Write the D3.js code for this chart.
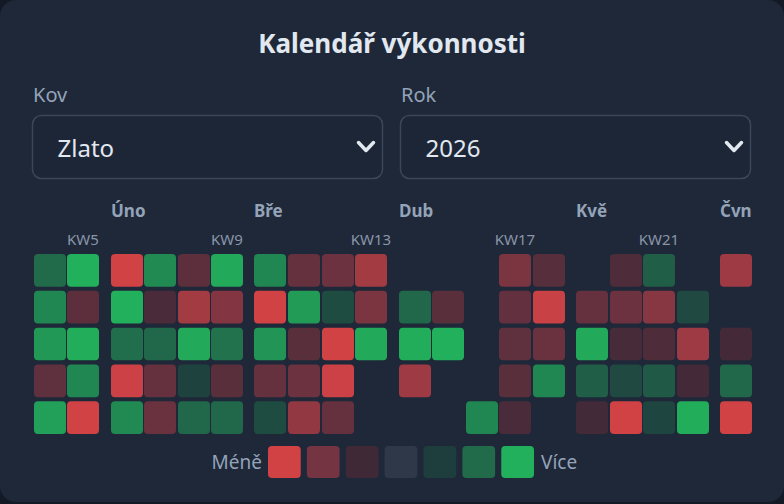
<!DOCTYPE html>
<html lang="cs">
<head>
<meta charset="utf-8">
<script src="https://cdn.jsdelivr.net/npm/d3@7/dist/d3.min.js"></script>
<style>
  html, body { margin: 0; padding: 0; background: #131a26; }
  svg { display: block; font-family: "Noto Sans", "Open Sans", sans-serif; }
</style>
</head>
<body>
<div id="kalendar"></div>
<script>
// ISO tydny roku 2026, ktere jsou videt (KW3 je uriznuty vlevo)
const rok = 2026;
const tydny = [3, 4, 5, 6, 7, 8, 9, 10, 11, 12, 13, 14, 15, 16, 17, 18, 19, 20, 21, 22, 23];
const dny = ["Po", "Út", "St", "Čt", "Pá"];

// denni zmena v % (Po..Pa), null = bez obchodu
const zmeny = [
  [2.9, 1.8, -1.8, 1.3, 1.8],        // KW3
  [2.0, 2.4, 2.65, -1.6, 2.75],      // KW4
  [3.0, -1.55, 2.95, 2.4, -3.0],     // KW5
  [-3.0, 3.0, 2.05, -2.95, 2.45],    // KW6
  [2.45, -1.2, 1.9, -1.7, -1.8],     // KW7
  [-1.55, -2.5, 2.9, 1.1, 1.9],      // KW8
  [2.9, -2.15, 2.1, -1.5, 1.9],      // KW9
  [2.4, -3.0, 2.6, -1.7, 1.3],       // KW10
  [-1.7, 2.7, -1.5, -1.85, -2.3],    // KW11
  [-1.85, 1.3, -3.0, -2.95, -1.7],   // KW12
  [-2.5, -2.05, 2.9, null, null],    // KW13
  [null, 1.9, 2.95, -2.45, null],    // KW14
  [null, -1.5, 3.0, null, null],     // KW15
  [null, null, null, null, 2.4],     // KW16
  [-2.05, -1.65, -1.6, -1.5, -1.2],  // KW17
  [-1.45, -2.9, -1.8, 2.4, null],    // KW18
  [null, -1.7, 2.9, 1.7, -1.05],     // KW19
  [-1.3, -1.85, -1.15, 1.25, -3.0],  // KW20
  [1.7, -2.2, -1.3, 1.6, 1.15],      // KW21
  [null, 1.25, -2.45, -1.1, 2.95],   // KW22
  [-2.45, null, -1.1, 1.9, -3.0]     // KW23
];

const nazvyMesicu = ["Led", "Úno", "Bře", "Dub", "Kvě", "Čvn", "Čvc", "Srp", "Zář", "Říj", "Lis", "Pro"];
const legenda = [-3, -2, -1, 0, 1, 2, 3];

const sirka = 784, vyska = 504;
const bunka = 32, krok = 33.5, mezeraMesic = 10;
const oblast = { left: 32, right: 752, top: 254 };

const svg = d3.select("#kalendar").append("svg")
  .attr("width", sirka)
  .attr("height", vyska);

// karta
svg.append("rect")
  .attr("width", sirka).attr("height", 502)
  .attr("rx", 16)
  .attr("fill", "#1e2839");

svg.append("text")
  .attr("x", sirka / 2).attr("y", 53)
  .attr("text-anchor", "middle")
  .attr("fill", "#e2e8f0")
  .style("font-size", "26px").style("font-weight", 700)
  .text("Kalendář výkonnosti");

// dva "selecty"
const vybery = [
  { popis: "Kov", hodnota: "Zlato", x: 32.5 },
  { popis: "Rok", hodnota: String(rok), x: 400.5 }
];
const vyber = svg.selectAll("g.vyber").data(vybery).join("g")
  .attr("class", "vyber")
  .attr("transform", d => `translate(${d.x},0)`);
vyber.append("text")
  .attr("x", 0.5).attr("y", 102)
  .attr("fill", "#94a3b8")
  .style("font-size", "20px")
  .text(d => d.popis);
vyber.append("rect")
  .attr("y", 115.5).attr("width", 350).attr("height", 63)
  .attr("rx", 9)
  .attr("fill", "#1d2637")
  .attr("stroke", "#3b4658").attr("stroke-width", 1.5);
vyber.append("text")
  .attr("x", 25).attr("y", 157)
  .attr("fill", "#e2e8f0")
  .style("font-size", "24px")
  .text(d => d.hodnota);
vyber.append("path")
  .attr("d", "M326,142.5 L333.5,150.5 L341,142.5")
  .attr("fill", "none")
  .attr("stroke", "#e2e8f0").attr("stroke-width", 3.5)
  .attr("stroke-linecap", "round").attr("stroke-linejoin", "round");

// kalendar: pondeli ISO tydne a mesic podle jeho ctvrtka
const prvniPondeli = d3.timeMonday.floor(new Date(rok, 0, 4));
const pondeli = w => d3.timeMonday.offset(prvniPondeli, w - 1);
const mesicTydne = w => d3.timeDay.offset(pondeli(w), 3).getMonth();
const m0 = mesicTydne(tydny[0]);

const xTyden = d3.scaleLinear()
  .domain([tydny[0], tydny[tydny.length - 1]])
  .range([0, (tydny.length - 1) * krok]);
const sloupec = w => xTyden(w) + (mesicTydne(w) - m0) * mezeraMesic;
const posun = oblast.right - (sloupec(tydny[tydny.length - 1]) + bunka);
const x = w => Math.round(posun + sloupec(w));

const y = d3.scaleBand()
  .domain(dny)
  .range([oblast.top, oblast.top + dny.length * 36])
  .paddingInner(4 / 36);

const barva = d3.scaleLinear()
  .domain(legenda)
  .range(["#d14245", "#753441", "#3f2937", "#2e3849", "#1e3e3d", "#216b4b", "#22b05c"])
  .clamp(true);

svg.append("clipPath").attr("id", "orez")
  .append("rect")
  .attr("x", oblast.left).attr("y", 190)
  .attr("width", oblast.right - oblast.left).attr("height", 250);

const mrizka = svg.append("g").attr("clip-path", "url(#orez)");

// popisky mesicu: prvni tyden noveho mesice
const mesice = tydny.filter((w, i) => i > 0 && mesicTydne(w) !== mesicTydne(tydny[i - 1]));
mrizka.selectAll("text.mesic").data(mesice).join("text")
  .attr("class", "mesic")
  .attr("x", d => x(d))
  .attr("y", 217)
  .attr("fill", "#94a3b8")
  .style("font-size", "17px").style("font-weight", 700)
  .text(d => nazvyMesicu[mesicTydne(d)]);

// cisla tydnu po ctyrech
mrizka.selectAll("text.kw").data(tydny.filter(w => w % 4 === 1)).join("text")
  .attr("class", "kw")
  .attr("x", d => x(d) + bunka / 2)
  .attr("y", 245)
  .attr("text-anchor", "middle")
  .attr("fill", "#8a95a8")
  .style("font-size", "15px")
  .text(d => "KW" + d);

const bunky = [];
tydny.forEach((w, i) => {
  zmeny[i].forEach((v, j) => {
    if (v !== null) bunky.push({ tyden: w, den: dny[j], hodnota: v });
  });
});

mrizka.selectAll("rect.den").data(bunky).join("rect")
  .attr("class", "den")
  .attr("x", d => x(d.tyden))
  .attr("y", d => y(d.den))
  .attr("width", bunka)
  .attr("height", y.bandwidth())
  .attr("rx", 4)
  .attr("fill", d => barva(d.hodnota));

// legenda
const leg = svg.append("g");
const xLeg = d3.scaleBand()
  .domain(legenda)
  .range([268, 268 + legenda.length * 38])
  .paddingInner(6 / 38);
leg.selectAll("rect").data(legenda).join("rect")
  .attr("x", d => xLeg(d))
  .attr("y", 446)
  .attr("width", xLeg.bandwidth())
  .attr("height", 32)
  .attr("rx", 4)
  .attr("fill", d => barva(d));
leg.append("text")
  .attr("x", 262).attr("y", 462)
  .attr("text-anchor", "end").attr("dominant-baseline", "central")
  .attr("fill", "#94a3b8").style("font-size", "19px")
  .text("Méně");
leg.append("text")
  .attr("x", xLeg(legenda[legenda.length - 1]) + xLeg.bandwidth() + 7).attr("y", 462)
  .attr("dominant-baseline", "central")
  .attr("fill", "#94a3b8").style("font-size", "19px")
  .text("Více");
</script>
</body>
</html>
